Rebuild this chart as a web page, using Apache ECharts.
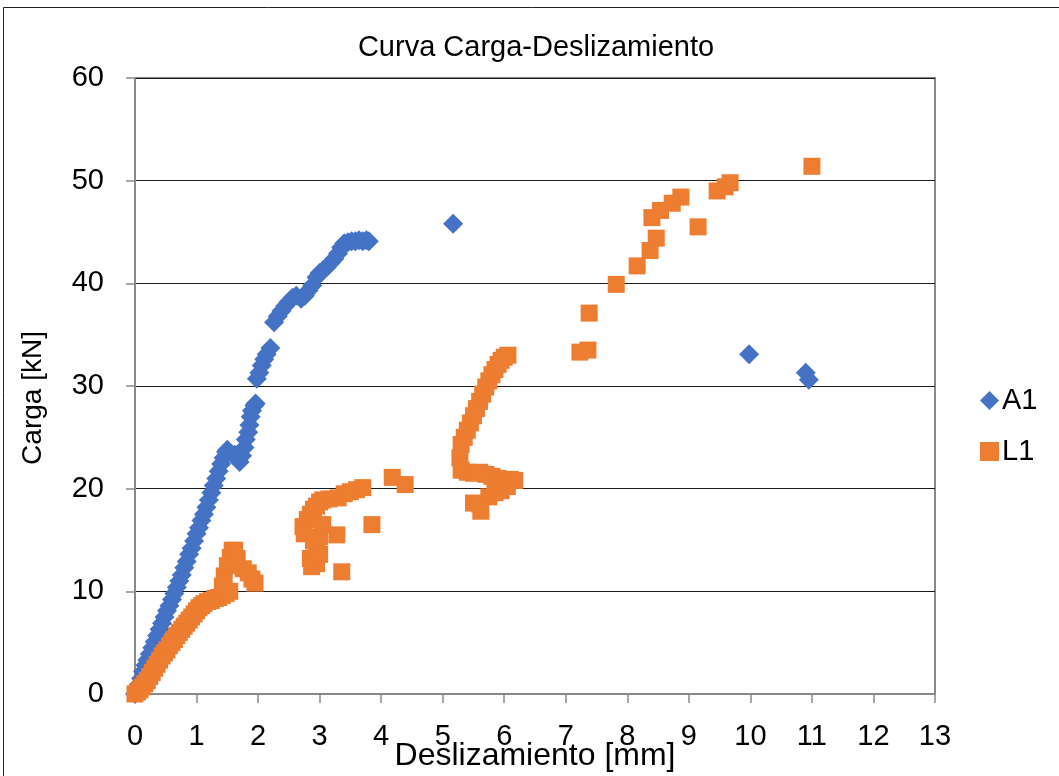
<!DOCTYPE html>
<html>
<head>
<meta charset="utf-8">
<script src="https://cdn.jsdelivr.net/npm/echarts@6/dist/echarts.min.js"></script>
<style>
html,body{margin:0;padding:0;background:#fff;}
#chart{width:1059px;height:776px;}
</style>
</head>
<body>
<div id="chart"></div>
<script>
var titleText = 'Curva Carga-Deslizamiento';
var xName = 'Deslizamiento [mm]';
var yName = 'Carga [kN]';
var seriesNames = ['A1', 'L1'];

var a1Data = [
  [0,0],[0.03,0.4],[0.06,0.9],[0.1,1.5],[0.13,2.2],[0.17,2.8],[0.2,3.3],[0.24,3.9],[0.28,4.5],[0.32,5.1],
  [0.36,5.7],[0.4,6.3],[0.44,6.9],[0.48,7.5],[0.52,8.1],[0.56,8.6],[0.6,9.2],[0.64,9.8],[0.68,10.4],[0.72,11.0],
  [0.76,11.6],[0.8,12.3],[0.84,12.9],[0.88,13.6],[0.92,14.2],[0.96,14.9],[1.0,15.6],[1.04,16.2],[1.08,16.9],[1.12,17.5],
  [1.16,18.2],[1.2,18.9],[1.24,19.6],[1.28,20.3],[1.32,21.0],[1.36,21.7],[1.4,22.4],[1.44,23.0],[1.48,23.6],[1.5,23.8],
  [1.62,23.3],[1.7,22.6],[1.74,23.2],[1.78,24.0],[1.8,24.8],[1.84,25.5],[1.86,26.2],[1.88,27.0],[1.9,27.6],[1.94,28.1],
  [1.96,28.3],[1.98,30.7],[2.02,31.3],[2.06,32.0],[2.1,32.6],[2.14,33.1],[2.2,33.7],[2.26,36.2],[2.32,36.8],[2.38,37.3],
  [2.44,37.8],[2.5,38.2],[2.56,38.6],[2.62,38.8],[2.7,38.5],[2.76,38.8],[2.82,39.3],[2.88,39.8],[2.95,40.6],[3.0,41.0],
  [3.06,41.3],[3.12,41.6],[3.18,42.0],[3.24,42.4],[3.3,42.9],[3.35,43.5],[3.4,43.9],[3.46,44.0],[3.52,44.1],[3.58,44.1],
  [3.64,44.2],[3.7,44.1],[3.76,44.2],[3.8,44.1],
  [5.17,45.8],[9.98,33.1],[10.9,31.3],[10.95,30.6]
];

var l1Data = [
  [0,0],[0.04,0.2],[0.08,0.4],[0.12,0.7],[0.16,1.0],[0.2,1.3],[0.24,1.7],[0.28,2.1],[0.32,2.5],[0.36,2.9],
  [0.4,3.3],[0.44,3.7],[0.48,4.0],[0.52,4.3],[0.56,4.7],[0.6,5.0],[0.64,5.3],[0.68,5.7],[0.72,6.0],[0.76,6.3],
  [0.8,6.6],[0.84,6.9],[0.88,7.2],[0.92,7.5],[0.96,7.8],[1.0,8.1],[1.04,8.4],[1.08,8.6],[1.12,8.8],[1.18,9.0],
  [1.24,9.1],[1.3,9.3],[1.36,9.4],[1.42,9.6],[1.48,9.8],[1.54,10.0],
  [1.42,10.5],[1.45,11.5],[1.5,12.5],[1.55,13.3],[1.58,14.0],[1.62,14.0],[1.66,13.2],[1.76,12.2],[1.84,11.8],[1.9,11.2],[1.95,10.8],
  [2.73,16.3],[2.75,15.6],[2.8,17.0],[2.85,17.5],[2.9,18.0],[2.95,18.3],[3.0,18.7],[3.05,18.9],[3.15,19.0],[3.3,19.1],
  [3.4,19.5],[3.5,19.7],[3.6,19.9],[3.7,20.1],[2.9,14.9],[2.95,14.0],[3.0,15.3],[3.05,16.5],[2.85,13.2],[2.87,12.4],
  [2.95,12.7],[3.0,13.6],[3.28,15.5],[3.36,11.9],[3.85,16.5],[4.18,21.1],[4.39,20.4],
  [5.28,23.0],[5.3,24.3],[5.35,25.0],[5.4,25.7],[5.45,26.4],[5.5,27.1],[5.55,27.8],[5.6,28.5],[5.65,29.2],[5.7,29.9],
  [5.75,30.5],[5.8,31.1],[5.85,31.6],[5.9,32.1],[5.95,32.5],[6.0,32.8],[6.06,33.0],
  [5.3,21.8],[5.4,21.6],[5.5,21.5],[5.6,21.6],[5.7,21.4],[5.8,21.2],[5.9,21.0],[6.0,20.9],[6.1,20.9],[6.17,20.8],
  [6.05,20.2],[5.95,19.8],[5.85,19.6],[5.75,19.2],[5.6,18.5],[5.62,17.8],[5.5,18.6],
  [7.23,33.3],[7.36,33.5],[7.38,37.1],[7.82,39.9],[8.16,41.7],[8.37,43.2],[8.47,44.4],[8.4,46.4],[8.54,47.1],[8.73,47.8],
  [8.87,48.4],[9.15,45.5],[9.46,49.0],[9.59,49.4],[9.67,49.8],[11.0,51.4]
];

var xTicks = {min: 0, max: 13, interval: 1};
var yTicks = {min: 0, max: 60, interval: 10};

var FONT = "'Liberation Sans', Arial, Helvetica, sans-serif";
var chart = echarts.init(document.getElementById('chart'), null, {renderer: 'canvas'});
chart.setOption({
  animation: false,
  backgroundColor: '#fff',
  textStyle: {fontFamily: FONT},
  title: {
    text: titleText,
    left: 531,
    textAlign: 'center',
    top: 28,
    textStyle: {fontSize: 29, fontWeight: 'normal', color: '#000', fontFamily: FONT}
  },
  graphic: [{
    type: 'rect', silent: true, z: -1,
    shape: {x: 3.5, y: 7.5, width: 1100, height: 800},
    style: {fill: 'none', stroke: '#222', lineWidth: 1}
  }],
  legend: {
    orient: 'vertical',
    left: 975,
    top: 381,
    itemWidth: 19,
    itemHeight: 19,
    itemGap: 22,
    textStyle: {fontSize: 29, color: '#000', fontFamily: FONT, padding: [0,0,0,-2]},
    data: [{name: seriesNames[0], icon: 'diamond'}, {name: seriesNames[1], icon: 'rect'}]
  },
  grid: {
    left: 135, right: 124, top: 78, bottom: 82,
    outerBoundsMode: 'none', containLabel: false,
    show: true, borderColor: '#898989', borderWidth: 2, backgroundColor: '#fff'
  },
  xAxis: {
    type: 'value',
    min: xTicks.min, max: xTicks.max, interval: xTicks.interval,
    name: xName, nameLocation: 'middle', nameGap: 46, nameMoveOverlap: false,
    nameTextStyle: {fontSize: 32, color: '#000', fontFamily: FONT},
    axisLine: {show: true, lineStyle: {color: '#898989', width: 2}},
    axisTick: {show: true, inside: false, length: 9, lineStyle: {color: '#898989', width: 1.5}},
    axisLabel: {fontSize: 29, color: '#000', margin: 28, fontFamily: FONT},
    splitLine: {show: false}
  },
  yAxis: {
    type: 'value',
    min: yTicks.min, max: yTicks.max, interval: yTicks.interval,
    name: yName, nameLocation: 'middle', nameGap: 88, nameMoveOverlap: false,
    nameTextStyle: {fontSize: 28, color: '#000', fontFamily: FONT, padding: [0, 24, 0, 0]},
    axisLine: {show: true, lineStyle: {color: '#898989', width: 2}},
    axisTick: {show: true, inside: false, length: 9, lineStyle: {color: '#898989', width: 1.5}},
    axisLabel: {fontSize: 29, color: '#000', margin: 31, fontFamily: FONT},
    splitLine: {show: true, lineStyle: {color: '#1a1a1a', width: 1}}
  },
  series: [
    {
      name: seriesNames[0], type: 'scatter', data: a1Data,
      symbol: 'diamond', symbolSize: 20,
      itemStyle: {color: '#4472C4', opacity: 1}, z: 3
    },
    {
      name: seriesNames[1], type: 'scatter', data: l1Data,
      symbol: 'rect', symbolSize: 17,
      itemStyle: {color: '#ED7D31', opacity: 1}, z: 4
    }
  ]
});
</script>
</body>
</html>
